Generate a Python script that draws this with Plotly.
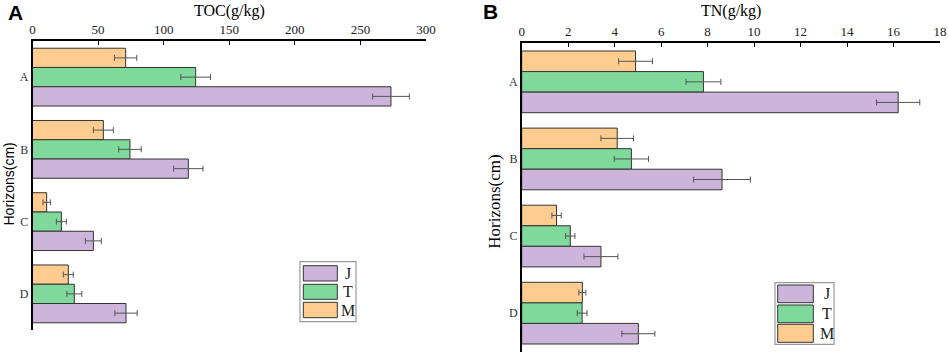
import plotly.graph_objects as go

W, H = 948, 354

horizons = ["A", "B", "C", "D"]
series = ["M", "T", "J"]          # drawn top-to-bottom inside each group
legend_order = ["J", "T", "M"]

toc_M = [71, 54, 10.8, 27.3]
toc_T = [124.4, 74.3, 22, 31.9]
toc_J = [273.3, 118.8, 46.4, 71.3]
toc_err_M = [8.5, 7.6, 2.8, 3.8]
toc_err_T = [11.3, 8.6, 3.8, 5.7]
toc_err_J = [14, 11.2, 6.1, 8.5]

tn_M = [4.9, 4.11, 1.5, 2.61]
tn_T = [7.82, 4.72, 2.09, 2.6]
tn_J = [16.2, 8.62, 3.41, 5.02]
tn_err_M = [0.73, 0.70, 0.2, 0.15]
tn_err_T = [0.75, 0.74, 0.2, 0.21]
tn_err_J = [0.93, 1.22, 0.73, 0.71]

toc_ticks = [0, 50, 100, 150, 200, 250, 300]
tn_ticks = [0, 2, 4, 6, 8, 10, 12, 14, 16, 18]

colors = {"J": "#CDB4DB", "T": "#7ED99A", "M": "#FFCC8F"}

SERIF = "Liberation Serif, Times New Roman, serif"
SANS = "Liberation Sans, Arial, sans-serif"

toc = {"M": (toc_M, toc_err_M), "T": (toc_T, toc_err_T), "J": (toc_J, toc_err_J)}
tn = {"M": (tn_M, tn_err_M), "T": (tn_T, tn_err_T), "J": (tn_J, tn_err_J)}

fig = go.Figure()
for data, xa, ya in [(toc, "x", "y"), (tn, "x2", "y2")]:
    for s in series:
        vals, errs = data[s]
        fig.add_trace(go.Bar(
            y=horizons, x=vals, orientation="h", name=s,
            xaxis=xa, yaxis=ya, showlegend=False,
            marker=dict(color=colors[s], line=dict(color="#333333", width=1)),
            error_x=dict(type="data", array=errs, visible=True,
                         color="#555555", thickness=1, width=3),
        ))

def px(x):
    return x / W

def py(y):
    return 1 - y / H

axis_common = dict(showgrid=False, zeroline=False, showline=True,
                   linecolor="black", linewidth=1.5, automargin=False)

fig.update_layout(
    width=W, height=H,
    margin=dict(l=0, r=0, t=0, b=0),
    paper_bgcolor="white", plot_bgcolor="white",
    barmode="group", bargap=0.2, bargroupgap=0,
    showlegend=False,
    xaxis=dict(domain=[px(32.5), px(426)], range=[0, 300], side="top",
               tickvals=toc_ticks, ticks="inside", ticklen=4, tickcolor="black",
               tickfont=dict(family=SERIF, size=13, color="#222"),
               anchor="y", **axis_common),
    yaxis=dict(domain=[py(330), py(41)], categoryorder="array",
               categoryarray=horizons, autorange="reversed", ticks="",
               tickfont=dict(family=SERIF, size=12, color="#333"),
               anchor="x", **axis_common),
    xaxis2=dict(domain=[px(521.7), px(940)], range=[0, 18], side="top",
                tickvals=tn_ticks, ticks="inside", ticklen=4, tickcolor="black",
                tickfont=dict(family=SERIF, size=13, color="#222"),
                anchor="y2", **axis_common),
    yaxis2=dict(domain=[py(351.7), py(43.3)], categoryorder="array",
                categoryarray=horizons, autorange="reversed", ticks="",
                tickfont=dict(family=SERIF, size=12, color="#333"),
                anchor="x2", **axis_common),
)

annotations = [
    dict(text="<b>A</b>", x=px(15), y=py(12.5), font=dict(family=SANS, size=21, color="black")),
    dict(text="<b>B</b>", x=px(491), y=py(11.5), font=dict(family=SANS, size=21, color="black")),
    dict(text="TOC(g/kg)", x=px(229), y=py(10.5), font=dict(family=SERIF, size=16, color="black")),
    dict(text="TN(g/kg)", x=px(731), y=py(11), font=dict(family=SERIF, size=16, color="black")),
    dict(text="Horizons(cm)", x=px(8.5), y=py(184), textangle=-90,
         font=dict(family=SANS, size=14, color="black")),
    dict(text="Horizons(cm)", x=px(495), y=py(201.7), textangle=-90,
         font=dict(family=SERIF, size=17, color="black")),
]
for a in annotations:
    a.update(xref="paper", yref="paper", showarrow=False, xanchor="center", yanchor="middle")

shapes = []
# manual legends (box, swatches, labels)
legends = [
    dict(box=(300, 261.7, 356, 321.7), sw=(303.3, 337.3), rows=[(265.7, 281), (284.3, 299.3), (302.3, 317.7)], lx=348.3),
    dict(box=(775, 282.7, 834, 344.3), sw=(777.7, 813.3), rows=[(285, 302.7), (305, 322.7), (324.3, 342.3)], lx=826.7),
]
for lg in legends:
    x0, y0, x1, y1 = lg["box"]
    shapes.append(dict(type="rect", xref="paper", yref="paper",
                       x0=px(x0), x1=px(x1), y0=py(y1), y1=py(y0),
                       line=dict(color="#999999", width=1.2), fillcolor="white", layer="above"))
    for s, (r0, r1) in zip(legend_order, lg["rows"]):
        shapes.append(dict(type="rect", xref="paper", yref="paper",
                           x0=px(lg["sw"][0]), x1=px(lg["sw"][1]), y0=py(r1), y1=py(r0),
                           line=dict(color="#333333", width=1), fillcolor=colors[s], layer="above"))
        annotations.append(dict(text=s, x=px(lg["lx"]), y=py((r0 + r1) / 2),
                                xref="paper", yref="paper", showarrow=False,
                                xanchor="center", yanchor="middle",
                                font=dict(family=SERIF, size=16, color="#222")))

fig.update_layout(annotations=annotations, shapes=shapes)
fig.write_html(
    "out.html",
    config={"displayModeBar": False},
    post_script="document.body.style.margin='0';document.body.style.overflow='hidden';",
)
